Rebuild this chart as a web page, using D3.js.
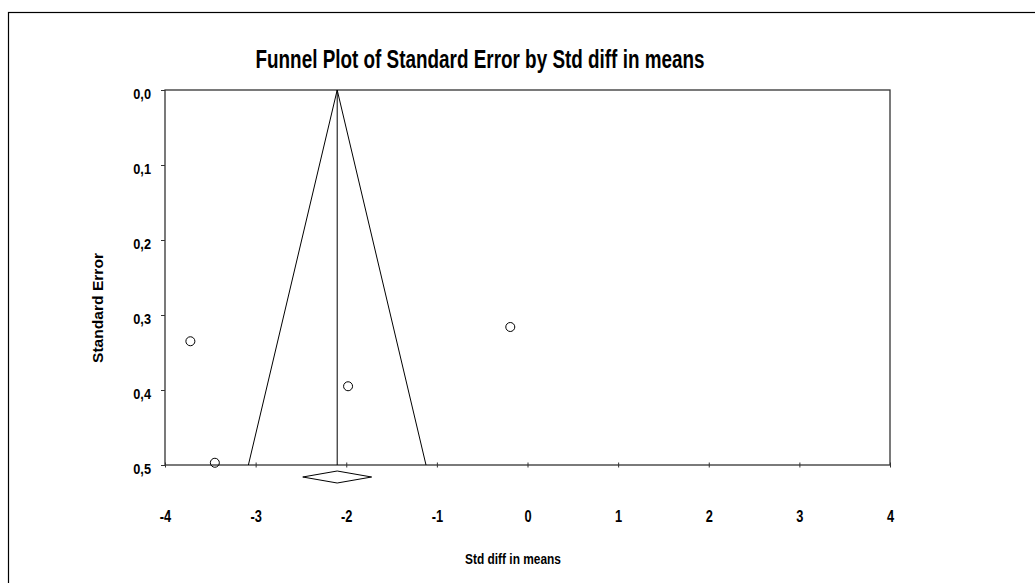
<!DOCTYPE html>
<html>
<head>
<meta charset="utf-8">
<script src="https://cdn.jsdelivr.net/npm/d3@7/dist/d3.min.js"></script>
<style>
  body { margin: 0; background: #fff; }
  text { font-family: "Liberation Sans", Arial, sans-serif; font-weight: bold; fill: #000; }
</style>
</head>
<body>
<svg id="chart" width="1035" height="583"></svg>
<script>
// 数据
const studyEffect = [-3.72, -3.45, -1.98, -0.19];
const studySE = [0.335, 0.497, 0.395, 0.316];
const pooledEffect = -2.10;
const pooledCI = [-2.48, -1.72];
const xTicks = [-4, -3, -2, -1, 0, 1, 2, 3, 4];
const yTicks = [0, 0.1, 0.2, 0.3, 0.4, 0.5];

const svg = d3.select("#chart");

// 压缩字体宽度（原图字体较窄）
function condense(sel, factor) {
    sel.each(function () {
        const w = this.getComputedTextLength();
        d3.select(this).attr("textLength", w * factor).attr("lengthAdjust", "spacingAndGlyphs");
    });
}

// 外框
svg.append("rect")
    .attr("x", 8.5).attr("y", 12.5)
    .attr("width", 1100).attr("height", 700)
    .attr("fill", "none").attr("stroke", "#000").attr("stroke-width", 1.2);

const x = d3.scaleLinear().domain([-4, 4]).range([165, 890]);
const y = d3.scaleLinear().domain([0, 0.5]).range([90, 465]);

// 标题
svg.append("text")
    .attr("x", 480).attr("y", 68)
    .attr("text-anchor", "middle")
    .attr("font-size", 25)
    .attr("textLength", 449).attr("lengthAdjust", "spacingAndGlyphs")
    .text("Funnel Plot of Standard Error by Std diff in means");

// 绘图区边框
svg.append("rect")
    .attr("x", x(-4)).attr("y", y(0))
    .attr("width", x(4) - x(-4)).attr("height", y(0.5) - y(0))
    .attr("fill", "none").attr("stroke", "#333").attr("stroke-width", 1.3);

// x轴（用普通连字符作负号）
const xAxis = svg.append("g")
    .attr("transform", `translate(0,${y(0.5)})`)
    .call(d3.axisBottom(x).tickValues(xTicks).tickSize(2.5).tickFormat(d => String(d)));
xAxis.select(".domain").remove();
xAxis.selectAll(".tick line").attr("y1", -2.5).attr("stroke", "#333");
xAxis.selectAll(".tick text")
    .attr("font-size", 16)
    .attr("font-family", "Liberation Sans, Arial, sans-serif")
    .attr("dy", 0).attr("y", 57);
condense(xAxis.selectAll(".tick text"), 0.8);

// y轴
const yAxis = svg.append("g")
    .attr("transform", `translate(${x(-4)},0)`)
    .call(d3.axisLeft(y).tickValues(yTicks).tickSize(4).tickPadding(10)
        .tickFormat(d => d.toFixed(1).replace(".", ",")));
yAxis.select(".domain").remove();
yAxis.selectAll(".tick line").attr("stroke", "#333");
yAxis.selectAll(".tick text")
    .attr("font-size", 15)
    .attr("font-family", "Liberation Sans, Arial, sans-serif")
    .attr("dy", 0).attr("y", 8);
condense(yAxis.selectAll(".tick text"), 0.85);

// 轴标题
svg.append("text")
    .attr("transform", "translate(103,308) rotate(-90)")
    .attr("text-anchor", "middle")
    .attr("font-size", 15)
    .attr("textLength", 110).attr("lengthAdjust", "spacingAndGlyphs")
    .text("Standard Error");

svg.append("text")
    .attr("x", 513).attr("y", 564)
    .attr("text-anchor", "middle")
    .attr("font-size", 15)
    .attr("textLength", 96).attr("lengthAdjust", "spacingAndGlyphs")
    .text("Std diff in means");

// 漏斗线（95%界限）
const funnel = [
    [pooledEffect - 1.96 * 0.5, 0.5],
    [pooledEffect, 0],
    [pooledEffect + 1.96 * 0.5, 0.5]
];
svg.append("path")
    .attr("d", d3.line().x(d => x(d[0])).y(d => y(d[1]))(funnel))
    .attr("fill", "none").attr("stroke", "#000").attr("stroke-width", 1);

// 中心线
svg.append("line")
    .attr("x1", x(pooledEffect)).attr("x2", x(pooledEffect))
    .attr("y1", y(0)).attr("y2", y(0.5))
    .attr("stroke", "#000").attr("stroke-width", 1);

// 研究点
svg.selectAll(".study")
    .data(studyEffect.map((e, i) => ({ e, se: studySE[i] })))
    .enter().append("circle")
    .attr("class", "study")
    .attr("cx", d => x(d.e))
    .attr("cy", d => y(d.se))
    .attr("r", 4.5)
    .attr("fill", "none").attr("stroke", "#000").attr("stroke-width", 1);

// 合并效应菱形
const dy0 = y(0.5) + 12;
const diamond = [
    [x(pooledCI[0]), dy0],
    [x(pooledEffect), dy0 - 6],
    [x(pooledCI[1]), dy0],
    [x(pooledEffect), dy0 + 6]
];
svg.append("path")
    .attr("d", "M" + diamond.join("L") + "Z")
    .attr("fill", "none").attr("stroke", "#000").attr("stroke-width", 1);
</script>
</body>
</html>
